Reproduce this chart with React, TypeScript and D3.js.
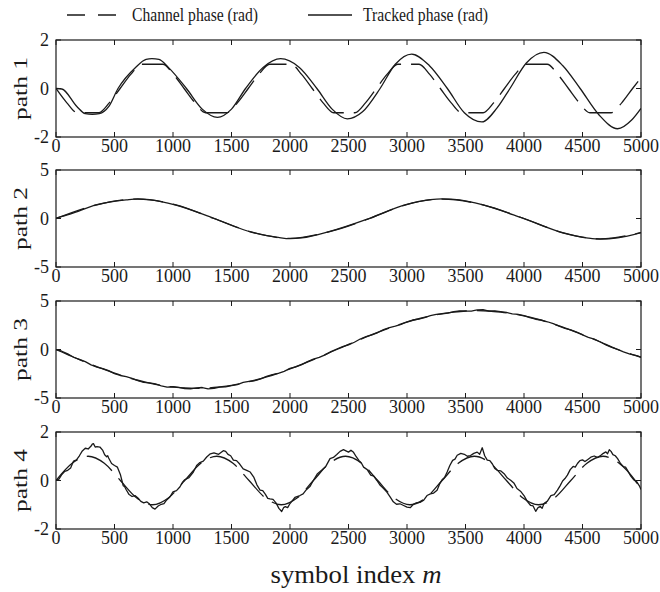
import React from "react";
import * as d3 from "d3";

// ---------- data (symbol index m, phase in rad) ----------
const X_TICKS = [0, 500, 1000, 1500, 2000, 2500, 3000, 3500, 4000, 4500, 5000];
const PANEL_LABELS = ["path 1", "path 2", "path 3", "path 4"];
const Y_DOMAINS = [[-2, 2], [-5, 5], [-5, 5], [-2, 2]];
const Y_TICKS = [[-2, 0, 2], [-5, 0, 5], [-5, 0, 5], [-2, 0, 2]];

// path 1
const P1_CH_M = [0, 91, 183, 365, 457, 548, 639, 730, 913, 1004, 1095, 1186, 1278, 1460, 1552, 1643, 1734, 1825, 2008, 2099, 2190, 2281, 2373, 2555, 2647, 2738, 2829, 2920, 3103, 3194, 3285, 3376, 3468, 3650, 3742, 3833, 3924, 4015, 4198, 4289, 4380, 4471, 4563, 4745, 4837, 4928, 5000];
const P1_CH_V = [0, -0.58, -1, -1, -0.58, 0, 0.58, 1, 1, 0.58, 0, -0.58, -1, -1, -0.58, 0, 0.58, 1, 1, 0.58, 0, -0.58, -1, -1, -0.58, 0, 0.58, 1, 1, 0.58, 0, -0.58, -1, -1, -0.58, 0, 0.58, 1, 1, 0.58, 0, -0.58, -1, -1, -0.58, 0, 0.44];
const P1_TR_M = [0, 50, 180, 250, 310, 370, 450, 530, 680, 770, 820, 880, 960, 1115, 1250, 1380, 1500, 1620, 1770, 1920, 2080, 2230, 2360, 2490, 2620, 2770, 2900, 3040, 3190, 3345, 3490, 3640, 3770, 3880, 4020, 4170, 4330, 4480, 4640, 4800, 4920, 5000];
const P1_TR_V = [0, -0.02, -0.75, -1.04, -1.07, -1.04, -0.75, 0, 0.87, 1.2, 1.23, 1.2, 0.87, 0, -0.85, -1.19, -0.85, 0, 0.87, 1.23, 0.87, 0, -0.85, -1.25, -0.96, 0, 1.0, 1.42, 0.95, 0, -1.0, -1.38, -0.8, 0, 1.05, 1.49, 0.95, 0, -1.08, -1.66, -1.3, -0.82];

// path 2
const P2_CH_M = [0, 350, 700, 1025, 1350, 1675, 2000, 2340, 2680, 2990, 3300, 3650, 4000, 4330, 4650, 5000];
const P2_CH_V = [0, 1.41, 2.0, 1.41, 0, -1.41, -2.05, -1.35, 0, 1.41, 2.0, 1.41, 0, -1.45, -2.1, -1.45];
const P2_TR_M = [0, 120, 350, 600, 700, 800, 1025, 1350, 1675, 1900, 2000, 2100, 2340, 2680, 2990, 3200, 3300, 3450, 3650, 4000, 4330, 4550, 4650, 4800, 5000];
const P2_TR_V = [0.03, 0.45, 1.43, 1.92, 2.03, 1.95, 1.38, 0.02, -1.43, -1.95, -2.08, -2.0, -1.33, 0.02, 1.43, 1.95, 2.03, 1.92, 1.4, -0.02, -1.47, -2.02, -2.12, -2.0, -1.45];

// path 3 (channel every 100 symbols, tracked every 50 symbols)
const P3_CH_STEP = 100;
const P3_CH_V = [0, -0.52, -1.04, -1.53, -2.0, -2.44, -2.83, -3.17, -3.46, -3.7, -3.86, -3.97, -4.0, -3.97, -3.86, -3.7, -3.46, -3.17, -2.83, -2.44, -2.0, -1.53, -1.04, -0.52, 0, 0.52, 1.04, 1.53, 2.0, 2.44, 2.83, 3.17, 3.46, 3.7, 3.86, 3.97, 4.0, 3.97, 3.86, 3.7, 3.46, 3.17, 2.83, 2.44, 2.0, 1.53, 1.04, 0.52, 0, -0.42, -0.78];
const P3_TR_STEP = 50;
const P3_TR_V = [0.0, -0.18, -0.45, -0.8, -1.02, -1.25, -1.58, -1.82, -1.97, -2.17,
  -2.48, -2.68, -2.8, -2.97, -3.2, -3.38, -3.45, -3.55, -3.74, -3.88,
  -3.84, -3.9, -4.02, -4.05, -3.95, -3.92, -4.05, -4.0, -3.88, -3.86,
  -3.72, -3.62, -3.4, -3.28, -3.2, -3.02, -2.78, -2.58, -2.47, -2.25,
  -1.95, -1.8, -1.56, -1.25, -1.0, -0.82, -0.55, -0.22, 0.05, 0.3,
  0.48, 0.75, 1.08, 1.32, 1.5, 1.75, 2.05, 2.26, 2.4, 2.6,
  2.86, 3.04, 3.14, 3.28, 3.5, 3.62, 3.68, 3.75, 3.9, 3.98,
  3.95, 3.96, 4.08, 4.1, 3.96, 3.98, 3.9, 3.82, 3.67, 3.62,
  3.49, 3.28, 3.12, 3.02, 2.86, 2.66, 2.4, 2.18, 2.03, 1.8,
  1.5, 1.25, 1.07, 0.8, 0.48, 0.22, 0.02, -0.25, -0.45, -0.6,
  -0.8];

// path 4
const P4_CH_M = [0, 138, 275, 413, 550, 688, 825, 963, 1100, 1238, 1375, 1513, 1650, 1788, 1925, 2063, 2200, 2338, 2475, 2613, 2750, 2888, 3025, 3163, 3300, 3438, 3575, 3713, 3850, 3988, 4125, 4263, 4400, 4538, 4675, 4813, 4950, 5000];
const P4_CH_V = [0, 0.71, 1, 0.71, 0, -0.71, -1, -0.71, 0, 0.71, 1, 0.71, 0, -0.71, -1, -0.71, 0, 0.71, 1, 0.71, 0, -0.71, -1, -0.71, 0, 0.71, 1, 0.71, 0, -0.71, -1, -0.71, 0, 0.71, 1, 0.71, 0, -0.35];
const P4_TR_M = [0, 25, 50, 75, 100, 125, 150, 175, 200, 225, 250, 275, 300, 310, 320, 335, 350, 375, 400, 416, 433, 442, 450, 475, 500, 525, 550, 562, 575, 587, 600, 625, 650, 675, 700, 725, 750, 775, 800, 823, 846, 873, 900, 923, 946, 973, 1000, 1030, 1060, 1080, 1100, 1137, 1174, 1202, 1230, 1259, 1288, 1319, 1350, 1390, 1430, 1450, 1470, 1493, 1516, 1543, 1570, 1600, 1630, 1660, 1690, 1717, 1744, 1767, 1790, 1810, 1829, 1855, 1880, 1905, 1929, 1945, 1960, 1980, 2000, 2042, 2085, 2112, 2140, 2170, 2199, 2235, 2270, 2306, 2342, 2371, 2400, 2428, 2457, 2478, 2500, 2521, 2543, 2566, 2590, 2610, 2629, 2660, 2690, 2716, 2743, 2771, 2800, 2828, 2857, 2883, 2910, 2940, 2971, 3000, 3029, 3054, 3080, 3111, 3143, 3171, 3200, 3228, 3257, 3278, 3300, 3321, 3343, 3366, 3390, 3410, 3429, 3460, 3490, 3516, 3543, 3571, 3600, 3621, 3643, 3664, 3686, 3708, 3730, 3750, 3771, 3800, 3830, 3858, 3886, 3913, 3940, 3970, 4000, 4028, 4057, 4078, 4100, 4120, 4140, 4155, 4171, 4200, 4230, 4258, 4286, 4308, 4330, 4350, 4371, 4395, 4420, 4438, 4457, 4478, 4500, 4521, 4543, 4571, 4600, 4628, 4657, 4678, 4700, 4714, 4729, 4744, 4760, 4780, 4800, 4825, 4850, 4868, 4886, 4913, 4940, 4963, 4986, 5000];
const P4_TR_V = [0.02, 0.06, 0.25, 0.38, 0.42, 0.52, 0.8, 0.85, 1.02, 1.22, 1.33, 1.3, 1.42, 1.5, 1.52, 1.38, 1.4, 1.38, 1.24, 1.06, 0.98, 1.02, 0.93, 0.7, 0.62, 0.55, 0.25, 0.02, -0.22, -0.26, -0.38, -0.58, -0.66, -0.62, -0.72, -0.86, -0.92, -0.88, -0.97, -1.12, -1.18, -1.05, -0.98, -0.95, -0.8, -0.68, -0.47, -0.42, -0.26, -0.08, 0.03, 0.12, 0.35, 0.62, 0.74, 0.8, 0.97, 1.1, 1.14, 1.08, 1.23, 1.2, 1.08, 1.02, 0.84, 0.82, 0.68, 0.48, 0.42, 0.35, 0.14, -0.18, -0.4, -0.42, -0.57, -0.74, -0.76, -0.78, -0.92, -1.15, -1.28, -1.12, -1.08, -1.12, -0.95, -0.7, -0.62, -0.55, -0.38, -0.25, 0.0, 0.28, 0.42, 0.58, 0.9, 0.95, 1.07, 1.2, 1.27, 1.22, 1.17, 1.25, 1.16, 0.98, 0.82, 0.72, 0.55, 0.45, 0.22, 0.18, 0.0, -0.2, -0.33, -0.48, -0.69, -0.88, -0.98, -0.96, -1.03, -1.1, -1.12, -0.98, -0.92, -0.9, -0.81, -0.62, -0.55, -0.52, -0.4, -0.15, 0.03, 0.12, 0.35, 0.62, 0.83, 0.88, 1.04, 1.12, 1.08, 1.0, 1.03, 1.12, 1.17, 1.08, 1.35, 1.02, 0.84, 0.82, 0.68, 0.5, 0.42, 0.4, 0.28, 0.1, 0.01, -0.1, -0.33, -0.44, -0.62, -0.86, -1.03, -1.05, -1.27, -1.12, -1.07, -1.15, -0.95, -0.85, -0.62, -0.58, -0.4, -0.22, -0.02, 0.08, 0.22, 0.45, 0.58, 0.55, 0.7, 0.82, 0.85, 0.78, 0.86, 0.96, 1.01, 0.95, 1.04, 1.12, 1.18, 1.1, 1.27, 1.2, 1.07, 1.02, 0.9, 0.7, 0.57, 0.55, 0.41, 0.18, 0.02, -0.05, -0.22, -0.37];

const zip = (ms: number[], vs: number[]) => ms.map((m, i) => [m, vs[i]] as [number, number]);
const stepZip = (step: number, vs: number[]) => vs.map((v, i) => [i * step, v] as [number, number]);

const SERIES = [
  { ch: zip(P1_CH_M, P1_CH_V), tr: zip(P1_TR_M, P1_TR_V), chCurve: d3.curveMonotoneX, trCurve: d3.curveMonotoneX },
  { ch: zip(P2_CH_M, P2_CH_V), tr: zip(P2_TR_M, P2_TR_V), chCurve: d3.curveMonotoneX, trCurve: d3.curveMonotoneX },
  { ch: stepZip(P3_CH_STEP, P3_CH_V), tr: stepZip(P3_TR_STEP, P3_TR_V), chCurve: d3.curveMonotoneX, trCurve: d3.curveLinear },
  { ch: zip(P4_CH_M, P4_CH_V), tr: zip(P4_TR_M, P4_TR_V), chCurve: d3.curveMonotoneX, trCurve: d3.curveLinear },
];

// ---------- layout ----------
const W = 660, H = 592;
const LEFT = 56, RIGHT = 641;
const TOPS = [40, 170, 301, 432];
const PH = 97;
const FONT = "'Liberation Serif', 'Times New Roman', Times, serif";
const INK = "#1a1a1a";

export default function App() {
  const x = d3.scaleLinear().domain([0, 5000]).range([LEFT, RIGHT]);
  return (
    <svg width={W} height={H} style={{ position: "absolute", left: 0, top: 0, background: "#fff" }} fontFamily={FONT}>
      <rect x={0} y={0} width={W} height={H} fill="#fff" />
      {/* legend */}
      <g>
        <line x1={67} x2={117} y1={15} y2={15} stroke={INK} strokeWidth={1.3} strokeDasharray="18,13" />
        <text x={132} y={21} fontSize={19} textLength={126} lengthAdjust="spacingAndGlyphs" fill={INK}>Channel  phase (rad)</text>
        <line x1={308} x2={352} y1={15} y2={15} stroke={INK} strokeWidth={1.3} />
        <text x={363} y={21} fontSize={19} textLength={125} lengthAdjust="spacingAndGlyphs" fill={INK}>Tracked  phase (rad)</text>
      </g>
      {SERIES.map((s, i) => {
        const top = TOPS[i];
        const bottom = top + PH;
        const y = d3.scaleLinear().domain(Y_DOMAINS[i]).range([bottom, top]);
        const chLine = d3.line<[number, number]>().x(d => x(d[0])).y(d => y(d[1])).curve(s.chCurve);
        const trLine = d3.line<[number, number]>().x(d => x(d[0])).y(d => y(d[1])).curve(s.trCurve);
        const clipId = `clip${i}`;
        return (
          <g key={i}>
            <defs>
              <clipPath id={clipId}>
                <rect x={LEFT} y={top} width={RIGHT - LEFT} height={PH} />
              </clipPath>
            </defs>
            <g clipPath={`url(#${clipId})`}>
              <path d={chLine(s.ch) || ""} fill="none" stroke={INK} strokeWidth={1.3} strokeDasharray="30,10" />
              <path d={trLine(s.tr) || ""} fill="none" stroke={INK} strokeWidth={1.3} strokeLinejoin="round" />
            </g>
            <rect x={LEFT} y={top} width={RIGHT - LEFT} height={PH} fill="none" stroke={INK} strokeWidth={1.2} />
            {X_TICKS.map(t => (
              <g key={"x" + t}>
                <line x1={x(t)} x2={x(t)} y1={top} y2={top + 5} stroke={INK} />
                <line x1={x(t)} x2={x(t)} y1={bottom} y2={bottom - 5} stroke={INK} />
                <text x={x(t)} y={bottom + 14.5} fontSize={18} textAnchor="middle" fill={INK}>{t}</text>
              </g>
            ))}
            {Y_TICKS[i].map(t => (
              <g key={"y" + t}>
                <line x1={LEFT} x2={LEFT + 5} y1={y(t)} y2={y(t)} stroke={INK} />
                <line x1={RIGHT} x2={RIGHT - 5} y1={y(t)} y2={y(t)} stroke={INK} />
                <text x={LEFT - 7} y={y(t)} dy="0.35em" fontSize={18} textAnchor="end" fill={INK}>{t}</text>
              </g>
            ))}
            <text
              transform={`translate(${27},${top + PH / 2}) rotate(-90)`}
              fontSize={18.5}
              textAnchor="middle"
              textLength={63}
              lengthAdjust="spacingAndGlyphs"
              fill={INK}
            >
              {PANEL_LABELS[i].replace(" ", "  ")}
            </text>
          </g>
        );
      })}
      <text x={356} y={583} fontSize={25} textAnchor="middle" fill={INK} textLength={171} lengthAdjust="spacingAndGlyphs">
        symbol index <tspan fontStyle="italic">m</tspan>
      </text>
    </svg>
  );
}
